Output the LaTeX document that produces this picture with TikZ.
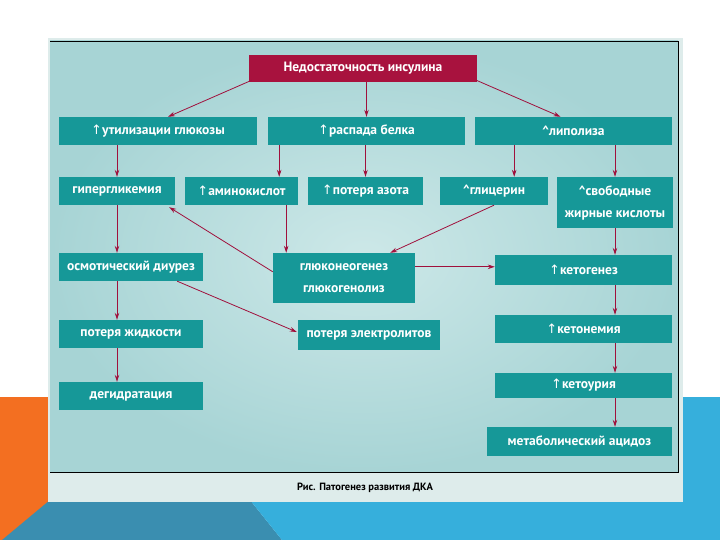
\documentclass[tikz,border=0pt]{standalone}
\usepackage{fontspec}
\setmainfont{PT Sans}
\newfontfamily\symfont{DejaVu Sans}
\usetikzlibrary{arrows.meta,positioning,calc}

\definecolor{boxteal}{RGB}{22,152,152}
\definecolor{titlered}{RGB}{168,18,62}
\definecolor{arrred}{RGB}{160,16,60}
\definecolor{panelbg}{RGB}{167,212,213}
\definecolor{panelhi}{RGB}{205,232,232}
\definecolor{capbg}{RGB}{222,236,235}
\definecolor{slideorange}{RGB}{243,111,33}
\definecolor{slidedark}{RGB}{58,142,176}
\definecolor{slidelight}{RGB}{54,175,220}

\newcommand{\uarr}{{\symfont\fontseries{m}\fontsize{13}{13}\selectfont ↑}}

\begin{document}
\begin{tikzpicture}[x=1pt,y=-1pt,
  box/.style={fill=boxteal,text=white,font=\bfseries\fontsize{13.5}{22}\selectfont,
    inner sep=0pt,align=center},
  arr/.style={draw=arrred,line width=0.8pt,-{Stealth[length=7pt,width=4.5pt]}}]
\useasboundingbox (0,0) rectangle (720,540);
%% slide background
\fill[slideorange] (0,397) -- (60,397) -- (60,540) -- (0,540) -- cycle;
\fill[slidedark] (2,540) -- (50,500) -- (250,500) -- (282,540) -- cycle;
\fill[slidelight] (683,397) -- (720,397) -- (720,540) -- (282,540) -- (250,500) -- (683,500) -- cycle;
%% panel
\fill[capbg] (48,38) rectangle (683,502);
\shade[inner color=panelhi,outer color=panelbg] (50,41) rectangle (678,472);
\draw[black,line width=0.8pt] (50,41) -- (678,41) -- (678,472) -- (50,472);
\node[font=\bfseries\fontsize{10.5}{12}\selectfont] (cap) at (365,488) {Рис. Патогенез развития ДКА};

%% boxes
\node[box,fill=titlered,minimum width=228pt,minimum height=27pt] (title) at (363,68.5) {Недостаточность инсулина};
\node[box,minimum width=198pt,minimum height=28pt] (util) at (158,131) {\uarr утилизации глюкозы};
\node[box,minimum width=197pt,minimum height=28pt] (belok) at (366.5,131) {\uarr распада белка};
\node[box,minimum width=197pt,minimum height=28pt] (lipol) at (573.5,131) {\textasciicircum липолиза};
\node[box,minimum width=116pt,minimum height=28pt] (giper) at (117,191) {гипергликемия};
\node[box,minimum width=113pt,minimum height=28pt] (amino) at (241.5,191) {\uarr аминокислот};
\node[box,minimum width=115pt,minimum height=28pt] (azot) at (365.5,191) {\uarr потеря азота};
\node[box,minimum width=108pt,minimum height=28pt] (glic) at (494,191) {\textasciicircum глицерин};
\node[box,minimum width=116pt,minimum height=51pt] (svob) at (615,202.5) {\textasciicircum свободные\\жирные кислоты};
\node[box,minimum width=144pt,minimum height=28pt] (osmo) at (131,267) {осмотический диурез};
\node[box,minimum width=142pt,minimum height=50pt] (gluko) at (344,278) {глюконеогенез\\глюкогенолиз};
\node[box,minimum width=177pt,minimum height=30pt] (ketog) at (583.5,270) {\uarr кетогенез};
\node[box,minimum width=144pt,minimum height=28pt] (zhid) at (131,334) {потеря жидкости};
\node[box,minimum width=142pt,minimum height=30pt] (elek) at (369,335) {потеря электролитов};
\node[box,minimum width=177pt,minimum height=28pt] (ketonem) at (583.5,329) {\uarr кетонемия};
\node[box,minimum width=144pt,minimum height=28pt] (degid) at (131,396) {дегидратация};
\node[box,minimum width=177pt,minimum height=25pt] (ketour) at (583.5,385.5) {\uarr кетоурия};
\node[box,minimum width=185pt,minimum height=29pt] (acid) at (579.5,441.5) {метаболический ацидоз};

%% connectors
\coordinate (t1) at ($(title.south west)+(3,-2)$);
\coordinate (t3) at ($(title.south east)+(-1,-2)$);
\coordinate (a1) at ($(amino.north east)+(-19,0)$);
\coordinate (a2) at ($(amino.south east)+(-12,0)$);
\coordinate (g1) at ($(glic.north east)+(-34,0)$);
\coordinate (g2) at ($(gluko.north east)+(0,14)$);
\draw[arr] (t1) -- ($(util.north)+(10,0)$);
\draw[arr] (belok.north |- title.south) -- (belok.north);
\draw[arr] (t3) -- ($(lipol.north)+(-13,0)$);
\draw[arr] (giper.north |- util.south) -- (giper.north);
\draw[arr] (a1 |- belok.south) -- (a1);
\draw[arr] (azot.north |- belok.south) -- (azot.north);
\draw[arr] (g1 |- lipol.south) -- (g1);
\draw[arr] (svob.north |- lipol.south) -- (svob.north);
\draw[arr] (a2) -- (a2 |- gluko.north);
\draw[arr] (glic.south) -- ($(gluko.north east)+(-25,0)$);
\draw[arr] ($(gluko.north west)+(0,19)$) -- ($(giper.south east)+(-6,2)$);
\draw[arr] (g2) -- (g2 -| ketog.west);
\draw[arr] (giper.south) -- (giper.south |- osmo.north);
\draw[arr] (giper.south |- osmo.south) -- (giper.south |- zhid.north);
\draw[arr] ($(osmo.south east)+(-26,0)$) -- ($(elek.west)+(-1,-3)$);
\draw[arr] (giper.south |- zhid.south) -- (giper.south |- degid.north);
\draw[arr] (svob.south) -- (svob.south |- ketog.north);
\draw[arr] (svob.south |- ketog.south) -- (svob.south |- ketonem.north);
\draw[arr] (svob.south |- ketonem.south) -- (svob.south |- ketour.north);
\draw[arr] (svob.south |- ketour.south) -- (svob.south |- acid.north);
\end{tikzpicture}
\end{document}
